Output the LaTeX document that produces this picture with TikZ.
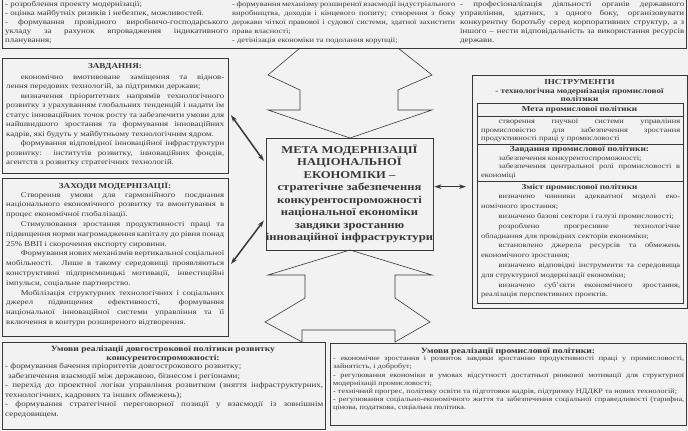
\documentclass[tikz,border=0pt]{standalone}
\usepackage{fontspec}
\setmainfont[FakeStretch=1.2]{Liberation Serif}
\usepackage{xcolor}
\definecolor{scanbg}{rgb}{0.95,0.95,0.95}
\definecolor{ink}{rgb}{0.22,0.22,0.22}
\usetikzlibrary{positioning, arrows.meta}

\begin{document}
\begin{tikzpicture}[x=1pt, y=-1pt,
  frameline/.style={draw=ink, line width=0.6pt},
  box/.style={frameline, anchor=north west, inner sep=0pt},
  body/.style={anchor=north west, inner sep=0pt, text width=#1, align=justify, text=ink},
  title/.style={inner sep=0pt, align=center, text=ink},
  link/.style={draw=ink, line width=1.5pt, {Stealth[length=7pt,width=4.5pt]}-{Stealth[length=7pt,width=4.5pt]}},
]
\fill[scanbg] (0,0) rectangle (688,431);
\useasboundingbox (0,0) rectangle (688,431);

% Frames
\node[box, minimum width=684, minimum height=58] (aims) at (2,-10) {};
\node[box, minimum width=226, minimum height=115] (tasks) at (2,58) {};
\node[box, minimum width=226, minimum height=158] (measures) at (2,178) {};
\node[box, minimum width=215, minimum height=233] (tools) at (472,75) {};
\node[box, minimum width=206, minimum height=200] (toolsin) at (477,103) {};
\node[box, minimum width=323, minimum height=87] (longterm) at (2,342) {};
\node[box, minimum width=356, minimum height=82] (industry) at (330,343) {};

% Goal
\node[frameline, inner sep=0pt, minimum width=165, minimum height=112, align=center,
      text=ink, font=\bfseries\fontsize{10.5}{12.5}\selectfont] (goal) at (349.5,194)
  {МЕТА МОДЕРНІЗАЦІЇ\\НАЦІОНАЛЬНОЇ\\ЕКОНОМІКИ –\\стратегічне забезпечення\\конкурентоспроможності\\національної економіки\\завдяки зростанню\\інноваційної інфраструктури};

% Top strip
\node[body=223, font=\fontsize{7.4}{9}\selectfont] (aimsL) at (5,1)
  {- розроблення проекту модернізації;\par
   - оцінка майбутніх ризиків і небезпек, можливостей.\par
   - формування провідного виробничо-господарського\linebreak
   укладу за рахунок впровадження індикативного\linebreak
   планування;};
\node[body=223, font=\fontsize{7}{9}\selectfont] (aimsM) at (232,1)
  {- формування механізму розширеної взаємодії індустріального\linebreak
   виробництва, доходів і кінцевого попиту; створення з боку\linebreak
   держави чіткої правової і судової системи, здатної захистити\linebreak
   права власності;\par
   - детінізація економіки та подолання корупції;};
\node[body=224, font=\fontsize{7.4}{9}\selectfont] (aimsR) at (460,1)
  {- професіоналізація діяльності органів державного\linebreak
   управління, здатних, з одного боку, організовувати\linebreak
   конкурентну боротьбу серед корпоративних структур, а з\linebreak
   іншого – нести відповідальність за використання ресурсів\linebreak
   держави.};

% Tasks
\node[title, font=\bfseries\fontsize{7.6}{9}\selectfont] (tasksT) at (115,67) {ЗАВДАННЯ:};
\node[body=218, font=\fontsize{7.3}{9.5}\selectfont] (tasksB) at (6,74)
  {\hspace*{2em}економічно вмотивоване заміщення та віднов-\linebreak
   лення передових технологій, за підтримки держави;\par
   \hspace*{2em}визначення пріоритетних напрямів технологічного\linebreak
   розвитку з урахуванням глобальних тенденцій і надати їм\linebreak
   статус інноваційних точок росту та забезпечити умови для\linebreak
   найшвидшого зростання та формування інноваційних\linebreak
   кадрів, які будуть у майбутньому технологічним ядром.\par
   \hspace*{2em}формування відповідної інноваційної інфраструктури\linebreak
   розвитку: інститутів розвитку, інноваційних фондів,\linebreak
   агентств з розвитку стратегічних технологій.};

% Measures
\node[title, font=\bfseries\fontsize{7.6}{9}\selectfont] (measuresT) at (115,186) {ЗАХОДИ МОДЕРНІЗАЦІЇ:};
\node[body=218, font=\fontsize{7.3}{9.8}\selectfont] (measuresB) at (6,192)
  {\hspace*{2em}Створення умови для гармонійного поєднання\linebreak
   національного економічного розвитку та вмонтування в\linebreak
   процес економічної глобалізації.\par
   \hspace*{2em}Стимулювання зростання продуктивності праці та\linebreak
   підвищення норми нагромадження капіталу до рівня понад\linebreak
   25\% ВВП і скорочення експорту сировини.\par
   \hspace*{2em}Формування нових механізмів вертикальної соціальної\linebreak
   мобільності. Лише в такому середовищі проявляються\linebreak
   конструктивні підприємницькі мотивації, інвестиційні\linebreak
   імпульси, соціальне партнерство.\par
   \hspace*{2em}Мобілізація структурних технологічних і соціальних\linebreak
   джерел підвищення ефективності, формування\linebreak
   національної інноваційної системи управління та її\linebreak
   включення в контури розширеного відтворення.};

% Tools
\node[title, font=\bfseries\fontsize{7.6}{9}\selectfont] (toolsT) at (579.5,82) {ІНСТРУМЕНТИ};
\node[title, font=\bfseries\fontsize{7.6}{8}\selectfont] (toolsS) at (579.5,94.5)
  {- технологічна модернізація промислової\\політики};
\node[title, font=\bfseries\fontsize{7.6}{8}\selectfont] (aimT) at (579.5,110) {Мета промислової політики};
\draw[frameline] (477,116) -- (683,116);
\node[body=199, font=\fontsize{7}{8.5}\selectfont] (aimB) at (481,119)
  {\hspace*{2.5em}створення гнучкої системи управління\linebreak
   промисловістю для забезпечення зростання\linebreak
   продуктивності праці у промисловості};
\draw[frameline] (477,144) -- (683,144);
\node[title, font=\bfseries\fontsize{7.8}{9}\selectfont] (taskT) at (579.5,150) {Завдання промислової політики:};
\node[body=199, font=\fontsize{7}{8.5}\selectfont] (taskB) at (481,155)
  {\hspace*{2.5em}забезпечення конкурентоспроможності;\par
   \hspace*{2.5em}забезпечення центральної ролі промисловості в\linebreak
   економіці};
\draw[frameline] (477,181) -- (683,181);
\node[title, font=\bfseries\fontsize{7.6}{8}\selectfont] (contT) at (579.5,188) {Зміст промислової політики};
\node[body=199, font=\fontsize{7}{9.8}\selectfont] (contB) at (481,194)
  {\hspace*{2.5em}визначено чинники адекватної моделі еко-\linebreak
   номічного зростання;\par
   \hspace*{2.5em}визначено базові сектори і галузі промисловості;\par
   \hspace*{2.5em}розроблено прогресивне технологічне\linebreak
   обладнання для провідних секторів економіки;\par
   \hspace*{2.5em}встановлено джерела ресурсів та обмежень\linebreak
   економічного зростання;\par
   \hspace*{2.5em}визначено відповідні інструменти та середовища\linebreak
   для структурної модернізації економіки;\par
   \hspace*{2.5em}визначено суб’єкти економічного зростання,\linebreak
   реалізація перспективних проектів.};

% Conditions
\node[title, font=\bfseries\fontsize{8}{8.6}\selectfont] (longT) at (163,354)
  {Умови реалізації довгострокової політики розвитку\\конкурентоспроможності:};
\node[body=318, font=\fontsize{7.5}{9.5}\selectfont] (longB) at (5,363)
  {- формування бачення пріоритетів довгострокового розвитку;\par
   \hspace*{0.4em}забезпечення взаємодії між державою, бізнесом і регіонами;\par
   - перехід до проектної логіки управління розвитком (зняття інфраструктурних,\linebreak
   технологічних, кадрових та інших обмежень);\par
   - формування стратегічної переговорної позиції у взаємодії із зовнішнім\linebreak
   середовищем.};
\node[title, font=\bfseries\fontsize{8}{9}\selectfont] (indT) at (508,352)
  {Умови реалізації промислової політики:};
\node[body=351, font=\fontsize{6.8}{8.2}\selectfont] (indB) at (333,356)
  {- економічне зростання і розвиток завдяки зростанню продуктивності праці у промисловості,\linebreak
   зайнятість, і добробут;\par
   - регулювання економіки в умовах відсутності достатньої ринкової мотивації для структурної\linebreak
   модернізації промисловості;\par
   - технічний прогрес, політику освіти та підготовки кадрів, підтримку НДДКР та нових технологій;\par
   - регулювання соціально-економічного життя та забезпечення соціальної справедливості (тарифна,\linebreak
   цінова, податкова, соціальна політика.};

% Block arrows
\draw[frameline, line join=miter] (300,48) -- (268,75) -- (300,90) -- (300,110) -- (268,110)
  -- (350,138) -- (432,110) -- (398,110) -- (398,90) -- (432,75) -- (398,48);
\draw[frameline, line join=miter] (350,250) -- (268,275) -- (305,275) -- (305,298) -- (265,322)
  -- (302,342) -- (302,330) -- (395,330) -- (395,342) -- (430,322) -- (395,298) -- (395,275)
  -- (432,275) -- cycle;

% Links
\draw[link, shorten <=4pt, shorten >=3pt] (tasks.2) -- (goal.160);
\draw[link, shorten <=4pt, shorten >=3pt] (measures.-5) -- (goal.196);
\draw[link, shorten <=1pt, shorten >=6pt] (goal.5) -- (goal.5 -| tools.west);
\end{tikzpicture}
\end{document}
